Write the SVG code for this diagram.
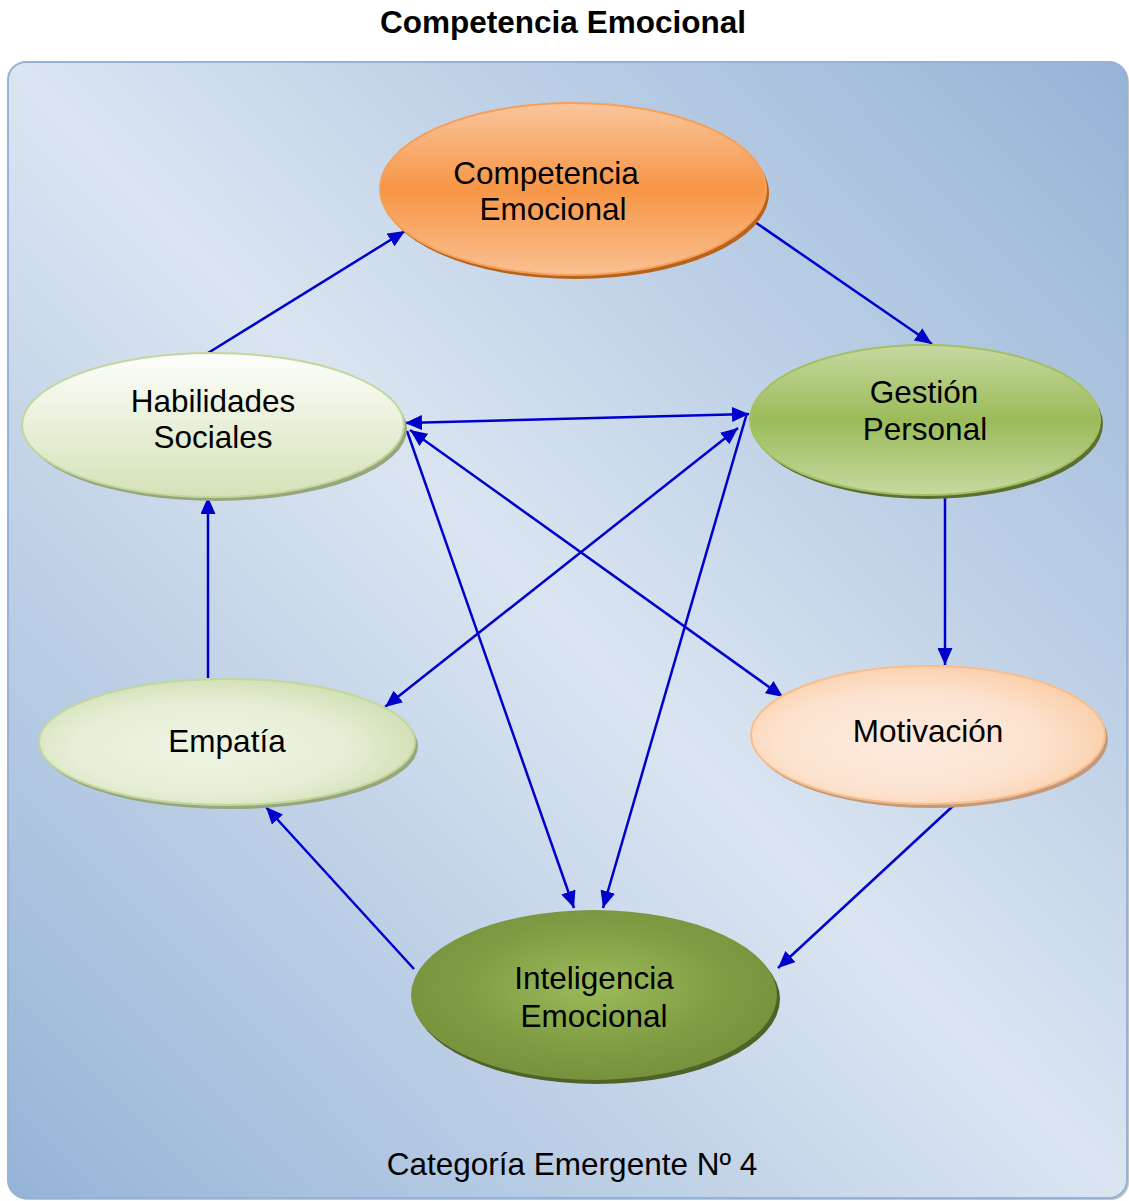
<svg xmlns="http://www.w3.org/2000/svg" width="1129" height="1201" viewBox="0 0 1129 1201">
  <defs>
    <linearGradient id="panelGrad" x1="0" y1="1" x2="1" y2="0">
      <stop offset="0" stop-color="#95b3d7"/>
      <stop offset="0.5" stop-color="#dbe5f1"/>
      <stop offset="1" stop-color="#95b3d7"/>
    </linearGradient>
    <linearGradient id="orangeGrad" x1="0" y1="0" x2="0" y2="1">
      <stop offset="0" stop-color="#fac59c"/>
      <stop offset="0.5" stop-color="#f79646"/>
      <stop offset="1" stop-color="#fac092"/>
    </linearGradient>
    <linearGradient id="gestGrad" x1="0" y1="0" x2="0" y2="1">
      <stop offset="0" stop-color="#c6d9a0"/>
      <stop offset="0.5" stop-color="#9bbb59"/>
      <stop offset="1" stop-color="#c6d9a0"/>
    </linearGradient>
    <linearGradient id="habGrad" x1="0" y1="0" x2="0" y2="1">
      <stop offset="0" stop-color="#fdfefb"/>
      <stop offset="1" stop-color="#d4e2b8"/>
    </linearGradient>
    <radialGradient id="empGrad" cx="0.45" cy="0.55" r="0.6">
      <stop offset="0" stop-color="#eef4e3"/>
      <stop offset="0.6" stop-color="#e6eed6"/>
      <stop offset="1" stop-color="#cfdeb1"/>
    </radialGradient>
    <radialGradient id="motGrad" cx="0.45" cy="0.55" r="0.6">
      <stop offset="0" stop-color="#fdeade"/>
      <stop offset="0.6" stop-color="#fce3d0"/>
      <stop offset="1" stop-color="#fbcda6"/>
    </radialGradient>
    <radialGradient id="intGrad" cx="0.5" cy="0.45" r="0.55">
      <stop offset="0" stop-color="#9bbb59"/>
      <stop offset="0.7" stop-color="#7e9a42"/>
      <stop offset="1" stop-color="#76923c"/>
    </radialGradient>
    <marker id="arr" viewBox="0 0 17 15" refX="17" refY="7.5" markerWidth="17" markerHeight="15" markerUnits="userSpaceOnUse" orient="auto-start-reverse">
      <path d="M0,0 L17,7.5 L0,15 Z" fill="#0000cc"/>
    </marker>
    <style>
      .lbl { font-family: "Liberation Sans", Arial, sans-serif; font-size: 31.5px; fill: #000; text-anchor: middle; }
      .conn { stroke: #0000cc; stroke-width: 2.5; fill: none; }
    </style>
  </defs>

  <rect x="0" y="0" width="1129" height="1201" fill="#ffffff"/>
  <text x="563" y="33" font-family="Liberation Sans, Arial, sans-serif" font-weight="bold" font-size="31.5" text-anchor="middle">Competencia Emocional</text>

  <g id="panel">
    <rect x="10" y="64" width="1119" height="1136" rx="18" fill="#8a8a8a" opacity="0.5"/>
    <rect x="8" y="62" width="1119" height="1136" rx="18" fill="url(#panelGrad)" stroke="#95b3d7" stroke-width="2"/>
    <text class="lbl" x="572" y="1175">Categoría Emergente Nº 4</text>
  </g>

  <g id="connectors">
    <line class="conn" x1="208" y1="353" x2="405" y2="231" marker-end="url(#arr)"/>
    <line class="conn" x1="752" y1="220" x2="932" y2="344" marker-end="url(#arr)"/>
    <line class="conn" x1="945" y1="498" x2="945" y2="665" marker-end="url(#arr)"/>
    <line class="conn" x1="953" y1="806" x2="778" y2="968" marker-end="url(#arr)"/>
    <line class="conn" x1="414" y1="969" x2="266" y2="807" marker-end="url(#arr)"/>
    <line class="conn" x1="208" y1="678" x2="208" y2="497" marker-end="url(#arr)"/>
    <line class="conn" x1="405" y1="423" x2="749" y2="414" marker-start="url(#arr)" marker-end="url(#arr)"/>
    <line class="conn" x1="410" y1="430" x2="783" y2="697" marker-start="url(#arr)" marker-end="url(#arr)"/>
    <line class="conn" x1="738" y1="428" x2="385" y2="707" marker-start="url(#arr)" marker-end="url(#arr)"/>
    <line class="conn" x1="407" y1="431" x2="574" y2="908" marker-end="url(#arr)"/>
    <line class="conn" x1="747" y1="413" x2="603" y2="908" marker-end="url(#arr)"/>
  </g>

  <g id="node-competencia">
    <ellipse cx="576" cy="193" rx="193" ry="86" fill="#b8621a"/>
    <ellipse cx="573" cy="189" rx="193" ry="86" fill="url(#orangeGrad)" stroke="#f4a05a" stroke-width="2"/>
    <text class="lbl" x="546" y="184">Competencia</text>
    <text class="lbl" x="553" y="220">Emocional</text>
  </g>

  <g id="node-gestion">
    <ellipse cx="928" cy="424" rx="175" ry="75" fill="#5a7030"/>
    <ellipse cx="925" cy="420" rx="175" ry="75" fill="url(#gestGrad)" stroke="#a3c062" stroke-width="2"/>
    <text class="lbl" x="924" y="403">Gestión</text>
    <text class="lbl" x="925" y="440">Personal</text>
  </g>

  <g id="node-habilidades">
    <ellipse cx="216" cy="429" rx="191" ry="72" fill="#98a67e"/>
    <ellipse cx="213" cy="425" rx="191" ry="72" fill="url(#habGrad)" stroke="#c3d69b" stroke-width="2"/>
    <text class="lbl" x="213" y="412">Habilidades</text>
    <text class="lbl" x="213" y="448">Sociales</text>
  </g>

  <g id="node-empatia">
    <ellipse cx="230" cy="746" rx="188" ry="63" fill="#98a67e"/>
    <ellipse cx="227" cy="742" rx="188" ry="63" fill="url(#empGrad)" stroke="#c3d69b" stroke-width="2"/>
    <text class="lbl" x="227" y="752">Empatía</text>
  </g>

  <g id="node-motivacion">
    <ellipse cx="931" cy="739" rx="177" ry="69" fill="#c09a7c"/>
    <ellipse cx="928" cy="735" rx="177" ry="69" fill="url(#motGrad)" stroke="#f9bd8c" stroke-width="2"/>
    <text class="lbl" x="928" y="742">Motivación</text>
  </g>

  <g id="node-inteligencia">
    <ellipse cx="597" cy="999" rx="183" ry="85" fill="#4f6228"/>
    <ellipse cx="594" cy="995" rx="183" ry="85" fill="url(#intGrad)"/>
    <text class="lbl" x="594" y="989">Inteligencia</text>
    <text class="lbl" x="594" y="1027">Emocional</text>
  </g>
</svg>
